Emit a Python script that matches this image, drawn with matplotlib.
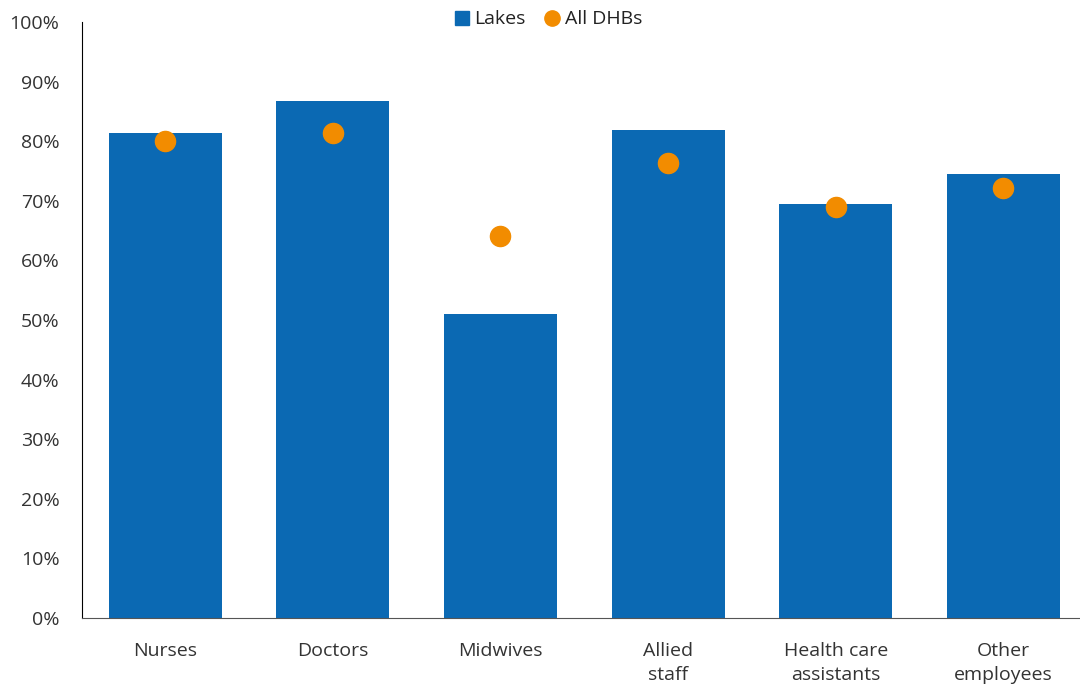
import matplotlib.pyplot as plt
from matplotlib.ticker import PercentFormatter
from matplotlib.lines import Line2D

categories = ["Nurses", "Doctors", "Midwives", "Allied\nstaff",
              "Health care\nassistants", "Other\nemployees"]
lakes = [81.4, 86.7, 51.0, 81.9, 69.5, 74.5]
all_dhbs = [80.0, 81.4, 64.1, 76.3, 69.0, 72.1]

plt.rcParams["font.family"] = ["Open Sans", "DejaVu Sans"]

fig = plt.figure(figsize=(10.8, 6.91), dpi=100)
ax = fig.add_axes([0.0755, 0.1056, 0.931, 0.8626])

x = range(len(categories))
ax.bar(x, lakes, width=0.675, color="#0B69B3", zorder=2)
ax.scatter(x, all_dhbs, s=210, color="#F28C00", zorder=3)

ax.set_ylim(0, 100)
ax.set_xlim(-0.5, len(categories) - 0.5)
ax.set_yticks(range(0, 101, 10))
ax.yaxis.set_major_formatter(PercentFormatter(decimals=0))
ax.set_xticks(list(x))
ax.set_xticklabels(categories, linespacing=1.45)
ax.tick_params(axis="both", length=0, labelsize=14, colors="#333333")
ax.tick_params(axis="x", pad=17)
ax.tick_params(axis="y", pad=16)

for s in ["top", "right"]:
    ax.spines[s].set_visible(False)
ax.spines["left"].set_color("black")
ax.spines["bottom"].set_color("#555555")

handles = [
    Line2D([], [], marker="s", linestyle="none", markersize=10, color="#0B69B3"),
    Line2D([], [], marker="o", linestyle="none", markersize=11, color="#F28C00"),
]
fig.legend(handles, ["Lakes", "All DHBs"], loc="center",
           bbox_to_anchor=(0.508, 0.972), ncol=2, frameon=False,
           fontsize=14, handlelength=0.7, handletextpad=0.3, columnspacing=1.0,
           labelcolor="#222222")

plt.savefig("out.png", dpi=100)
